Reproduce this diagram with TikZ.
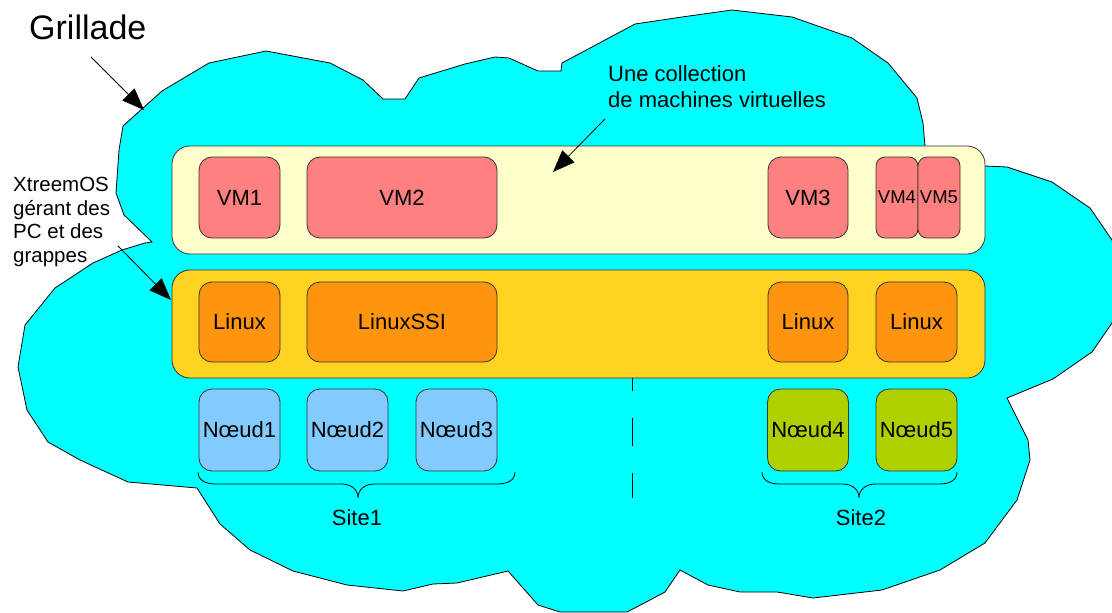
\documentclass[tikz,border=0pt]{standalone}
\usepackage{fontspec}
\setmainfont{Liberation Sans}
\usetikzlibrary{arrows.meta}
\definecolor{cloudc}{HTML}{00FFFF}
\definecolor{vmbandc}{HTML}{FFFFCC}
\definecolor{lxbandc}{HTML}{FFD320}
\definecolor{vmc}{HTML}{FF8080}
\definecolor{lxc}{HTML}{FF950E}
\definecolor{nbluec}{HTML}{83CAFF}
\definecolor{ngreenc}{HTML}{AECF00}
\definecolor{edgec}{HTML}{333333}
\begin{document}
\begin{tikzpicture}[x=1pt,y=-1pt,
  cloudshape/.style={draw=black, line width=0.8pt, fill=cloudc, line join=miter},
  band/.style={draw=edgec, line width=0.8pt, rounded corners=18pt, inner sep=0pt,
    minimum width=813pt, minimum height=108pt},
  box/.style={draw=edgec, line width=0.8pt, rounded corners=13pt, inner sep=0pt,
    font=\fontsize{22}{26}\selectfont, minimum height=81pt, minimum width=81pt},
  vmbox/.style={box, fill=vmc},
  smallvm/.style={vmbox, rounded corners=9pt, minimum width=42pt, font=\fontsize{18.5}{22}\selectfont},
  lxbox/.style={box, fill=lxc, minimum height=80pt},
  nbox/.style={box, fill=nbluec, minimum height=82pt},
  ngbox/.style={box, fill=ngreenc, minimum height=82pt},
  lbl/.style={inner sep=0pt, font=\fontsize{22}{26}\selectfont},
  ptr/.style={draw=black, line width=0.8pt, -{Triangle[length=22pt,width=17pt]}},
  bracestyle/.style={draw=black, line width=0.8pt},
  sitesep/.style={draw=black, line width=1pt, dash pattern=on 28pt off 27pt, dash phase=15pt}
]
\useasboundingbox (0,0) rectangle (1112,613);

% cloud (grid)
\path[cloudshape] (152,242) -- (124,215) -- (116,193) -- (119,150) -- (123,126) -- (162,91)
 -- (209,63) -- (266,51) -- (330,63) -- (363,80) -- (383,99) -- (405,99) -- (419,78)
 -- (465,64) -- (495,57) -- (509,58) -- (538,71) -- (561,71) -- (562,63) -- (635,24)
 -- (682,17) -- (732,10) -- (792,17) -- (852,38) -- (888,63) -- (917,98) -- (923,123)
 -- (925,146) -- (960,200) -- (985,166) -- (1007,167) -- (1052,182) -- (1090,208)
 -- (1112,240) -- (1120,280) -- (1112,323) -- (1092,352) -- (1053,379) -- (1007,398)
 -- (1028,440) -- (1030,460) -- (1017,500) -- (985,543) -- (940,570) -- (882,590)
 -- (813,598) -- (777,592) -- (740,592) -- (708,585) -- (680,570) -- (665,592)
 -- (650,600) -- (627,612) -- (560,612) -- (538,605) -- (508,571) -- (457,583)
 -- (433,584) -- (403,591) -- (347,585) -- (293,571) -- (250,550) -- (220,524)
 -- (197,488) -- (128,482) -- (80,460) -- (48,442) -- (27,410) -- (18,367) -- (25,325)
 -- (55,288) -- (93,263) -- (122,250) -- (145,243) -- cycle;

% separator between sites
\coordinate (d1) at (632,378);
\coordinate (d2) at (632,498);
\draw[sitesep] (d1) -- (d2);

% bands
\node[band, fill=vmbandc] (vmband) at (578.5,200) {};
\node[band, fill=lxbandc] (lxband) at (578.5,324) {};

% virtual machines
\node[vmbox] (vm1) at (239.5,197.5) {VM1};
\node[vmbox, minimum width=190pt] (vm2) at (402,197.5) {VM2};
\node[vmbox, minimum width=80pt] (vm3) at (808,197.5) {VM3};
\node[smallvm] (vm4) at (897,197.5) {VM4};
\node[smallvm] (vm5) at (939,197.5) {VM5};

% operating systems
\node[lxbox] (lx1) at (239.5,322) {Linux};
\node[lxbox, minimum width=190pt] (lxssi) at (402,322) {LinuxSSI};
\node[lxbox, minimum width=80pt] (lx3) at (808,322) {Linux};
\node[lxbox] (lx4) at (916.5,322) {Linux};

% nodes
\node[nbox] (n1) at (239.5,430) {Nœud1};
\node[nbox] (n2) at (347.5,430) {Nœud2};
\node[nbox] (n3) at (456.5,430) {Nœud3};
\node[ngbox] (n4) at (808,430) {Nœud4};
\node[ngbox] (n5) at (916.5,430) {Nœud5};

% braces
\draw[bracestyle] (198,472) .. controls (198,480) and (205,484) .. (216,484) -- (341,484)
  .. controls (352,484) and (358,490) .. (358,498)
  .. controls (358,490) and (364,484) .. (375,484) -- (497,484)
  .. controls (508,484) and (515,480) .. (515,472);
\draw[bracestyle] (762,472) .. controls (762,480) and (769,484) .. (780,484) -- (842,484)
  .. controls (853,484) and (859,490) .. (859,498)
  .. controls (859,490) and (865,484) .. (876,484) -- (939,484)
  .. controls (950,484) and (957,480) .. (957,472);

\node[lbl, anchor=base] (site1) at (357,525) {Site1};
\node[lbl, anchor=base] (site2) at (861,525) {Site2};

% labels (anchor base = baseline of last line)
\node[inner sep=0pt, anchor=base west, font=\fontsize{34}{40}\selectfont] (grill) at (29,39) {Grillade};
\node[inner sep=0pt, anchor=base west, align=left, font=\fontsize{20.5}{23.4}\selectfont] (xos) at (13,262)
  {XtreemOS\\gérant des\\PC et des\\grappes};
\node[inner sep=0pt, anchor=base west, align=left, font=\fontsize{22}{26}\selectfont] (coll) at (608,107)
  {Une collection\\de machines virtuelles};

% pointers
\coordinate (g1) at (91,57);
\coordinate (g2) at (144,110);
\coordinate (x1) at (118,246);
\coordinate (x2) at (171,300);
\coordinate (c1) at (605,119);
\coordinate (c2) at (553,172);
\draw[ptr] (g1) -- (g2);
\draw[ptr] (x1) -- (x2);
\draw[ptr] (c1) -- (c2);
\end{tikzpicture}
\end{document}
